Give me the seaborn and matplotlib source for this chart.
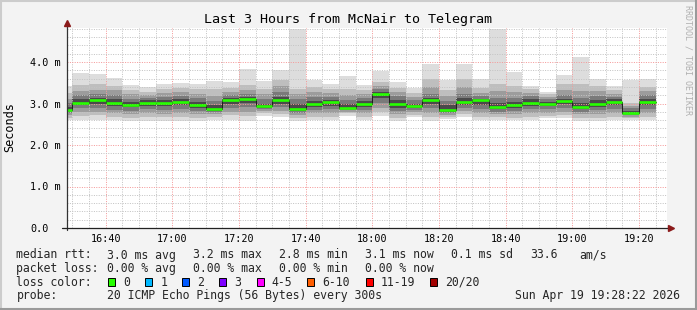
import numpy as np
import pandas as pd
import matplotlib
matplotlib.use("Agg")
import matplotlib.pyplot as plt
import seaborn as sns
from matplotlib.lines import Line2D
from matplotlib.patches import Rectangle

# ---------------- data (values in milliseconds) ----------------
bar_end = pd.date_range("2026-04-19 16:30", periods=36, freq="5min")
rtt_min = [2.60, 2.60, 2.60, 2.60, 2.59, 2.59, 2.59, 2.59, 2.59, 2.60, 2.61, 2.59,
           2.70, 2.68, 2.59, 2.60, 2.60, 2.71, 2.60, 2.71, 2.59, 2.68, 2.59, 2.63,
           2.68, 2.61, 2.61, 2.60, 2.60, 2.64, 2.64, 2.59, 2.59, 2.60, 2.60, 2.61]
rtt_lo2 = [2.66, 2.70, 2.72, 2.68, 2.66, 2.68, 2.67, 2.68, 2.66, 2.68, 2.72, 2.70,
           2.76, 2.74, 2.66, 2.68, 2.68, 2.76, 2.68, 2.80, 2.66, 2.73, 2.68, 2.68,
           2.74, 2.68, 2.68, 2.66, 2.68, 2.70, 2.72, 2.66, 2.66, 2.68, 2.64, 2.68]
rtt_lo3 = [2.72, 2.80, 2.80, 2.76, 2.74, 2.77, 2.75, 2.76, 2.74, 2.74, 2.80, 2.80,
           2.82, 2.82, 2.72, 2.76, 2.76, 2.80, 2.76, 2.90, 2.74, 2.79, 2.78, 2.72,
           2.82, 2.76, 2.74, 2.74, 2.76, 2.78, 2.80, 2.74, 2.74, 2.76, 2.68, 2.76]
rtt_lo4 = [2.77, 2.88, 2.90, 2.84, 2.83, 2.86, 2.84, 2.86, 2.82, 2.79, 2.90, 2.92,
           2.86, 2.92, 2.78, 2.84, 2.86, 2.84, 2.84, 3.02, 2.82, 2.84, 2.88, 2.76,
           2.90, 2.86, 2.80, 2.82, 2.86, 2.86, 2.90, 2.80, 2.84, 2.86, 2.72, 2.86]
rtt_lo5 = [2.81, 2.96, 3.00, 2.93, 2.91, 2.95, 2.93, 2.96, 2.90, 2.83, 3.00, 3.02,
           2.90, 3.00, 2.83, 2.92, 2.95, 2.87, 2.92, 3.14, 2.90, 2.89, 2.98, 2.80,
           2.96, 2.96, 2.86, 2.90, 2.94, 2.93, 2.98, 2.86, 2.92, 2.96, 2.75, 2.96]
rtt_median = [2.84, 3.02, 3.09, 3.02, 2.97, 3.02, 3.02, 3.04, 2.97, 2.87, 3.08, 3.11,
              2.94, 3.08, 2.87, 2.99, 3.03, 2.90, 2.99, 3.24, 2.99, 2.94, 3.08, 2.84,
              3.04, 3.08, 2.92, 2.96, 3.02, 2.99, 3.07, 2.92, 2.99, 3.04, 2.78, 3.04]
rtt_hi5 = [2.92, 3.10, 3.14, 3.10, 3.04, 3.08, 3.08, 3.11, 3.04, 2.96, 3.14, 3.16,
           3.00, 3.16, 2.98, 3.06, 3.08, 2.98, 3.06, 3.28, 3.08, 3.00, 3.14, 2.96,
           3.14, 3.12, 3.02, 3.04, 3.10, 3.04, 3.12, 3.02, 3.08, 3.10, 2.82, 3.12]
rtt_hi4 = [3.02, 3.20, 3.22, 3.20, 3.12, 3.14, 3.16, 3.18, 3.14, 3.06, 3.20, 3.24,
           3.10, 3.28, 3.10, 3.16, 3.16, 3.08, 3.14, 3.34, 3.18, 3.08, 3.24, 3.06,
           3.24, 3.18, 3.14, 3.14, 3.18, 3.10, 3.20, 3.14, 3.18, 3.16, 2.88, 3.20]
rtt_hi3 = [3.12, 3.30, 3.32, 3.32, 3.22, 3.20, 3.26, 3.28, 3.24, 3.18, 3.28, 3.32,
           3.22, 3.42, 3.22, 3.28, 3.26, 3.20, 3.24, 3.42, 3.28, 3.16, 3.40, 3.18,
           3.40, 3.26, 3.30, 3.28, 3.26, 3.16, 3.32, 3.30, 3.30, 3.24, 2.94, 3.30]
rtt_hi2 = [3.25, 3.45, 3.46, 3.42, 3.32, 3.28, 3.36, 3.38, 3.34, 3.34, 3.38, 3.44,
           3.36, 3.56, 3.34, 3.40, 3.36, 3.36, 3.32, 3.52, 3.38, 3.26, 3.58, 3.32,
           3.58, 3.38, 3.46, 3.42, 3.34, 3.22, 3.48, 3.46, 3.42, 3.32, 3.02, 3.40]
rtt_max = [3.42, 3.74, 3.71, 3.61, 3.45, 3.39, 3.46, 3.49, 3.46, 3.54, 3.52, 3.82,
           3.54, 3.81, 4.80, 3.57, 3.47, 3.66, 3.44, 3.79, 3.52, 3.37, 3.94, 3.57,
           3.96, 3.60, 4.80, 3.77, 3.41, 3.28, 3.69, 4.13, 3.59, 3.42, 3.57, 3.60]

x_tick_labels = ["16:40", "17:00", "17:20", "17:40", "18:00", "18:20", "18:40", "19:00", "19:20"]
y_tick_values = [0, 1, 2, 3, 4]
y_tick_labels = ["0.0", "1.0 m", "2.0 m", "3.0 m", "4.0 m"]

loss_labels = ["0", "1", "2", "3", "4-5", "6-10", "11-19", "20/20"]
loss_colors = ["#26ff00", "#00b8ff", "#0059ff", "#7e00ff", "#ff00ff", "#ff5e00", "#ff0000", "#a10000"]

title = "Last 3 Hours from McNair to Telegram"

# ---------------- style ----------------
sns.set_style("white")
plt.rcParams["font.family"] = ["DejaVu Sans Mono", "DejaVu Sans"]

W, H = 697, 310
fig = plt.figure(figsize=(W / 100, H / 100), dpi=100, facecolor="#f3f3f3")


def fx(px):
    return px / W


def fy(py):
    return 1 - py / H


ax = fig.add_axes([fx(67), 82 / H, 600 / W, 200 / H])
ax.set_facecolor("white")

# time as minutes since midnight
end_min = np.array([t.hour * 60 + t.minute for t in bar_end], dtype=float)
start_min = end_min - 5
edges = np.append(start_min, end_min[-1])

t_left = 16 * 60 + 28 + 22 / 60
t_right = t_left + 180
ax.set_xlim(t_left, t_right)
ax.set_ylim(0, 200 / 41.5)


def ext(v):
    return np.append(np.asarray(v, float), v[-1])


layers = [
    (rtt_min, rtt_max, "#dddddd"),
    (rtt_lo2, rtt_hi2, "#bebebe"),
    (rtt_lo3, rtt_hi3, "#9c9c9c"),
    (rtt_lo4, rtt_hi4, "#7a7a7a"),
    (rtt_lo5, rtt_hi5, "#4a4a4a"),
]
for lo, hi, col in layers:
    ax.fill_between(edges, ext(lo), ext(hi), step="post", color=col, lw=0, zorder=1)

# median: dark step line + green loss-colour segments
med_df = pd.DataFrame({"t": edges, "median": ext(rtt_median)})
sns.lineplot(data=med_df, x="t", y="median", drawstyle="steps-post", estimator=None,
             color="#202020", lw=0.72, ax=ax, zorder=3)
ax.hlines(rtt_median, start_min, end_min, colors=loss_colors[0], lw=1.9, zorder=4)
ax.set_xlabel("")
ax.set_ylabel("")

# grid
major_x = np.arange(1000, 1161, 20)
minor_x = np.arange(990, 1168, 5)
ax.set_xticks(major_x)
ax.set_xticklabels(x_tick_labels)
ax.set_xticks(minor_x, minor=True)
ax.set_yticks(y_tick_values)
ax.set_yticklabels(y_tick_labels)
ax.set_yticks(np.arange(0, 4.81, 0.2), minor=True)
ax.set_axisbelow(False)
ax.grid(which="minor", color="#c4c4c4", lw=0.72, linestyle=(0, (1, 1.4)), zorder=2.5)
ax.grid(which="major", color="#f59a9a", lw=0.72, linestyle=(0, (1, 1.4)), zorder=2.6)

for s in ax.spines.values():
    s.set_visible(False)

ax.tick_params(axis="x", which="major", direction="out", length=2.5, width=0.8, color="#333333",
               labelsize=7.3, pad=2, labelcolor="black")
ax.tick_params(axis="x", which="minor", direction="out", length=1.5, width=0.6, color="#555555")
ax.tick_params(axis="y", which="major", direction="inout", length=3.5, width=0.8, color="#333333",
               labelsize=7.3, pad=24.85, labelcolor="black")
ax.tick_params(axis="y", which="minor", direction="inout", length=2, width=0.6, color="#555555")
for lab in ax.get_yticklabels():
    lab.set_horizontalalignment("left")

# axis lines with arrows
ax.plot([0, 0], [-0.01, 1.025], transform=ax.transAxes, color="#333333", lw=0.9, clip_on=False, zorder=5)
ax.plot([-0.008, 1.005], [0, 0], transform=ax.transAxes, color="#222222", lw=0.9, clip_on=False, zorder=5)
ax.plot([0], [1.025], transform=ax.transAxes, marker="^", ms=4.2, color="#8b1a1a", clip_on=False, zorder=6)
ax.plot([1.007], [0], transform=ax.transAxes, marker=">", ms=4.2, color="#8b1a1a", clip_on=False, zorder=6)

# texts
fig.text(fx(348), fy(19), title, ha="center", va="center", fontsize=9.6, color="black")
fig.text(fx(10), fy(127), "Seconds", rotation=90, ha="center", va="center", fontsize=8.6, color="black")
fig.text(fx(688), fy(60), "RRDTOOL / TOBI OETIKER", rotation=270, ha="center", va="center",
         fontsize=6, color="#b0b0b0")

fs = 8.3
row1 = [(16.4, "median rtt:"), (107, "3.0 ms avg"), (193, "3.2 ms max"), (279, "2.8 ms min"),
        (365, "3.1 ms now"), (451, "0.1 ms sd"), (530, "33.6"), (579, "am/s")]
row2 = [(16.4, "packet loss:"), (107, "0.00 % avg"), (193, "0.00 % max"), (279, "0.00 % min"),
        (365, "0.00 % now")]
for x, s in row1:
    fig.text(fx(x), fy(255), s, ha="left", va="center", fontsize=fs)
for x, s in row2:
    fig.text(fx(x), fy(268.5), s, ha="left", va="center", fontsize=fs)

fig.text(fx(16.4), fy(282), "loss color:", ha="left", va="center", fontsize=fs)
box_x = [108.3, 145.3, 182.3, 219.3, 256.7, 307, 365.7, 430]
lab_x = [123.3, 160.7, 197.3, 234.3, 271.7, 322.3, 380.7, 445]
for bx, lx, lab, col in zip(box_x, lab_x, loss_labels, loss_colors):
    fig.patches.append(Rectangle((fx(bx), fy(286)), 7 / W, 8.5 / H, transform=fig.transFigure,
                                 facecolor=col, edgecolor="black", lw=0.7))
    fig.text(fx(lx), fy(282), lab, ha="left", va="center", fontsize=fs)

fig.text(fx(16.4), fy(296), "probe:", ha="left", va="center", fontsize=fs)
fig.text(fx(107), fy(296), "20 ICMP Echo Pings (56 Bytes) every 300s", ha="left", va="center", fontsize=fs)
fig.text(fx(680), fy(296), "Sun Apr 19 19:28:22 2026", ha="right", va="center", fontsize=fs)

# 3D-ish frame
fig.add_artist(Line2D([0, 1], [fy(1), fy(1)], transform=fig.transFigure, color="#cccccc", lw=1.5))
fig.add_artist(Line2D([fx(1), fx(1)], [0, 1], transform=fig.transFigure, color="#cccccc", lw=1.5))
fig.add_artist(Line2D([0, 1], [fy(309), fy(309)], transform=fig.transFigure, color="#9a9a9a", lw=1.5))
fig.add_artist(Line2D([fx(696), fx(696)], [0, 1], transform=fig.transFigure, color="#9a9a9a", lw=1.5))

fig.savefig("out.png", dpi=100, facecolor=fig.get_facecolor())
